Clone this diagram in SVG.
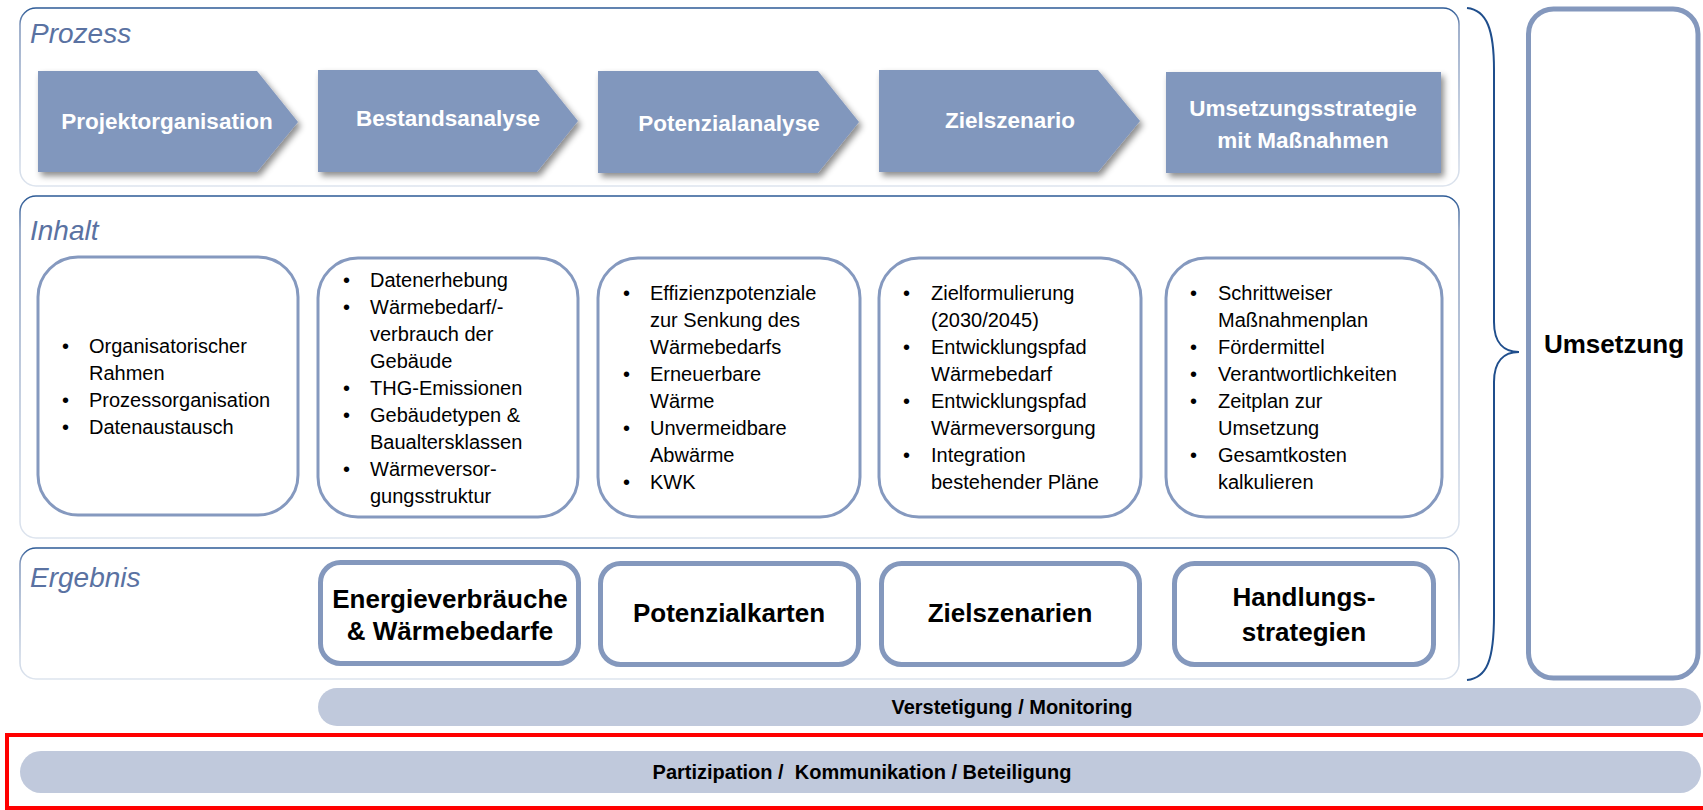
<svg xmlns="http://www.w3.org/2000/svg" width="1703" height="810" viewBox="0 0 1703 810">
<style>
.panel{fill:#ffffff;stroke:url(#pg);stroke-width:1.5}
.sec{font-family:"Liberation Sans",Arial,sans-serif;font-style:italic;font-size:28px;fill:#5a72a2}
.chev{fill:#8197bd;filter:url(#sh)}
.ct{font-family:"Liberation Sans",Arial,sans-serif;font-weight:bold;font-size:22.5px;fill:#ffffff;text-anchor:middle}
.ibox{fill:#ffffff;stroke:#8599bf;stroke-width:3}
.it{font-family:"Liberation Sans",Arial,sans-serif;font-size:20px;fill:#000000}
.ebox{fill:#ffffff;stroke:#8498bd;stroke-width:5}
.et{font-family:"Liberation Sans",Arial,sans-serif;font-weight:bold;font-size:26px;fill:#000000;text-anchor:middle}
.bar{fill:#c0c9dc}
.bt{font-family:"Liberation Sans",Arial,sans-serif;font-weight:bold;font-size:20px;fill:#000000;text-anchor:middle;white-space:pre}
</style>
<defs>
<linearGradient id="pg" x1="0" y1="0" x2="0" y2="1">
<stop offset="0" stop-color="#2c5a96"/>
<stop offset="0.1" stop-color="#7f95ba"/>
<stop offset="1" stop-color="#dde4ee"/>
</linearGradient>
<filter id="sh" x="-10%" y="-10%" width="130%" height="140%">
<feDropShadow dx="3" dy="4" stdDeviation="3" flood-color="#000000" flood-opacity="0.45"/>
</filter>
</defs>

<g id="panel-prozess">
<rect class="panel" x="20" y="8" width="1439" height="178" rx="16"/>
<text class="sec" x="30" y="43">Prozess</text>
</g>
<g id="panel-inhalt">
<rect class="panel" x="20" y="196" width="1439" height="342" rx="16"/>
<text class="sec" x="30" y="240">Inhalt</text>
</g>
<g id="panel-ergebnis">
<rect class="panel" x="20" y="548" width="1439" height="131" rx="16"/>
<text class="sec" x="30" y="587">Ergebnis</text>
</g>

<g id="step-projektorganisation">
<polygon class="chev" points="38,71 257,71 298,122 257,172 38,172"/>
<text class="ct" x="167" y="129">Projektorganisation</text>
</g>
<g id="step-bestandsanalyse">
<polygon class="chev" points="318,70 537,70 578,121 537,172 318,172"/>
<text class="ct" x="448" y="126">Bestandsanalyse</text>
</g>
<g id="step-potenzialanalyse">
<polygon class="chev" points="598,71 818,71 859,122 818,173 598,173"/>
<text class="ct" x="729" y="131">Potenzialanalyse</text>
</g>
<g id="step-zielszenario">
<polygon class="chev" points="879,70 1098,70 1140,121 1098,172 879,172"/>
<text class="ct" x="1010" y="128">Zielszenario</text>
</g>
<g id="step-umsetzungsstrategie">
<rect class="chev" x="1166" y="72" width="275" height="101"/>
<text class="ct" x="1303" y="116">Umsetzungsstrategie</text>
<text class="ct" x="1303" y="148">mit Maßnahmen</text>
</g>

<g id="inhalt-1">
<rect class="ibox" x="38" y="257" width="260" height="258" rx="40"/>
<text class="it" x="62" y="353">•</text><text class="it" x="89" y="353">Organisatorischer</text>
<text class="it" x="89" y="380">Rahmen</text>
<text class="it" x="62" y="407">•</text><text class="it" x="89" y="407">Prozessorganisation</text>
<text class="it" x="62" y="434">•</text><text class="it" x="89" y="434">Datenaustausch</text>
</g>
<g id="inhalt-2">
<rect class="ibox" x="318" y="258" width="260" height="259" rx="40"/>
<text class="it" x="343" y="287">•</text><text class="it" x="370" y="287">Datenerhebung</text>
<text class="it" x="343" y="314">•</text><text class="it" x="370" y="314">Wärmebedarf/-</text>
<text class="it" x="370" y="341">verbrauch der</text>
<text class="it" x="370" y="368">Gebäude</text>
<text class="it" x="343" y="395">•</text><text class="it" x="370" y="395">THG-Emissionen</text>
<text class="it" x="343" y="422">•</text><text class="it" x="370" y="422">Gebäudetypen &amp;</text>
<text class="it" x="370" y="449">Baualtersklassen</text>
<text class="it" x="343" y="476">•</text><text class="it" x="370" y="476">Wärmeversor-</text>
<text class="it" x="370" y="503">gungsstruktur</text>
</g>
<g id="inhalt-3">
<rect class="ibox" x="598" y="258" width="262" height="259" rx="40"/>
<text class="it" x="623" y="300">•</text><text class="it" x="650" y="300">Effizienzpotenziale</text>
<text class="it" x="650" y="327">zur Senkung des</text>
<text class="it" x="650" y="354">Wärmebedarfs</text>
<text class="it" x="623" y="381">•</text><text class="it" x="650" y="381">Erneuerbare</text>
<text class="it" x="650" y="408">Wärme</text>
<text class="it" x="623" y="435">•</text><text class="it" x="650" y="435">Unvermeidbare</text>
<text class="it" x="650" y="462">Abwärme</text>
<text class="it" x="623" y="489">•</text><text class="it" x="650" y="489">KWK</text>
</g>
<g id="inhalt-4">
<rect class="ibox" x="879" y="258" width="262" height="259" rx="40"/>
<text class="it" x="903" y="300">•</text><text class="it" x="931" y="300">Zielformulierung</text>
<text class="it" x="931" y="327">(2030/2045)</text>
<text class="it" x="903" y="354">•</text><text class="it" x="931" y="354">Entwicklungspfad</text>
<text class="it" x="931" y="381">Wärmebedarf</text>
<text class="it" x="903" y="408">•</text><text class="it" x="931" y="408">Entwicklungspfad</text>
<text class="it" x="931" y="435">Wärmeversorgung</text>
<text class="it" x="903" y="462">•</text><text class="it" x="931" y="462">Integration</text>
<text class="it" x="931" y="489">bestehender Pläne</text>
</g>
<g id="inhalt-5">
<rect class="ibox" x="1166" y="258" width="276" height="259" rx="40"/>
<text class="it" x="1190" y="300">•</text><text class="it" x="1218" y="300">Schrittweiser</text>
<text class="it" x="1218" y="327">Maßnahmenplan</text>
<text class="it" x="1190" y="354">•</text><text class="it" x="1218" y="354">Fördermittel</text>
<text class="it" x="1190" y="381">•</text><text class="it" x="1218" y="381">Verantwortlichkeiten</text>
<text class="it" x="1190" y="408">•</text><text class="it" x="1218" y="408">Zeitplan zur</text>
<text class="it" x="1218" y="435">Umsetzung</text>
<text class="it" x="1190" y="462">•</text><text class="it" x="1218" y="462">Gesamtkosten</text>
<text class="it" x="1218" y="489">kalkulieren</text>
</g>

<g id="ergebnis-1">
<rect class="ebox" x="320.5" y="562.5" width="258" height="101" rx="20"/>
<text class="et" x="450" y="608">Energieverbräuche</text>
<text class="et" x="450" y="640">&amp; Wärmebedarfe</text>
</g>
<g id="ergebnis-2">
<rect class="ebox" x="600.5" y="563.5" width="258" height="101" rx="20"/>
<text class="et" x="729" y="622">Potenzialkarten</text>
</g>
<g id="ergebnis-3">
<rect class="ebox" x="881.5" y="563.5" width="258" height="101" rx="20"/>
<text class="et" x="1010" y="622">Zielszenarien</text>
</g>
<g id="ergebnis-4">
<rect class="ebox" x="1174.5" y="563.5" width="259" height="101" rx="20"/>
<text class="et" x="1304" y="606">Handlungs-</text>
<text class="et" x="1304" y="641">strategien</text>
</g>

<g id="umsetzung">
<rect x="1528.5" y="9" width="169.5" height="669" rx="25" fill="#ffffff" stroke="#8498bd" stroke-width="5"/>
<text x="1614" y="353" font-family="Liberation Sans, Arial, sans-serif" font-weight="bold" font-size="26" text-anchor="middle" fill="#000000">Umsetzung</text>
</g>

<g id="connectors">
<path d="M1467,8 C1487,10 1494,30 1494,70 L1494,322 C1494,343 1504,352 1519,352 C1504,352 1494,361 1494,382 L1494,615 C1494,660 1487,678 1467,680" fill="none" stroke="#1f4e8c" stroke-width="2"/>
</g>

<g id="verstetigung">
<rect class="bar" x="318" y="688" width="1383" height="38" rx="19"/>
<text class="bt" x="1012" y="714">Verstetigung / Monitoring</text>
</g>
<g id="partizipation">
<rect x="7" y="735" width="1730" height="73" fill="none" stroke="#ff0000" stroke-width="4"/>
<rect class="bar" x="20" y="751" width="1681" height="42" rx="21"/>
<text class="bt" x="862" y="779">Partizipation /  Kommunikation / Beteiligung</text>
</g>
</svg>
